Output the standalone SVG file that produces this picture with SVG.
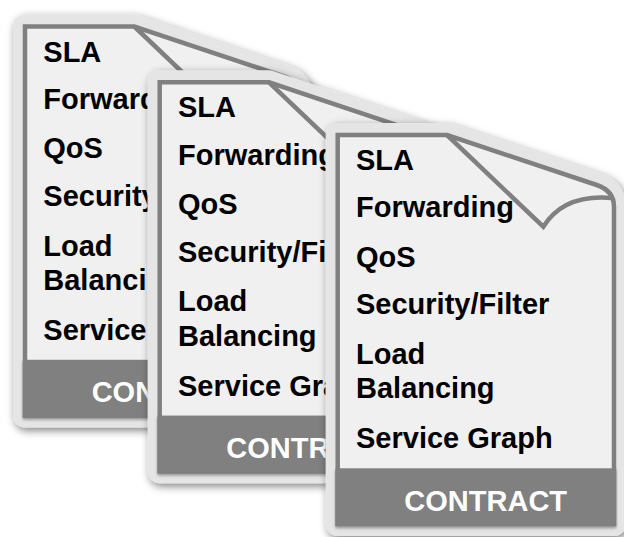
<svg xmlns="http://www.w3.org/2000/svg" xmlns:xlink="http://www.w3.org/1999/xlink" width="624" height="537" viewBox="0 0 624 537">
<style>
  .frame{fill:#e5e5e5;stroke:#e5e5e5;stroke-width:24;stroke-linejoin:round;filter:url(#shadow)}
  .page{fill:#f0f0f0;stroke:#808080;stroke-width:4.5;stroke-linejoin:miter}
  .fold{fill:none;stroke:#808080;stroke-width:4.5;stroke-linejoin:miter}
  .footer{fill:#808080;filter:url(#fshadow)}
  .item{font-family:"Liberation Sans",Arial,sans-serif;font-weight:bold;font-size:29px;fill:#000}
  .label{font-family:"Liberation Sans",Arial,sans-serif;font-weight:bold;font-size:29px;fill:#fff;text-anchor:middle}
</style>
<defs>
  <filter id="shadow" x="-20%" y="-20%" width="140%" height="140%">
    <feGaussianBlur in="SourceAlpha" stdDeviation="4"/>
    <feOffset dx="2" dy="3" result="b"/>
    <feComponentTransfer><feFuncA type="linear" slope="0.5"/></feComponentTransfer>
    <feMerge><feMergeNode/><feMergeNode in="SourceGraphic"/></feMerge>
  </filter>
  <filter id="fshadow" x="-10%" y="-20%" width="120%" height="150%">
    <feGaussianBlur in="SourceAlpha" stdDeviation="1.5"/>
    <feOffset dx="0" dy="2"/>
    <feComponentTransfer><feFuncA type="linear" slope="0.35"/></feComponentTransfer>
    <feMerge><feMergeNode/><feMergeNode in="SourceGraphic"/></feMerge>
  </filter>
  <path id="sil" d="M0,0 H109.3 L259,50 Q276.3,55.8 276.3,71.7 V389 H0 Z"/>
  <path id="fold" d="M109.3,0 L205.6,91.7 C218,72 240,60 274,63"/>
  <clipPath id="clip1"><rect x="-10" y="-10" width="132.7" height="420"/></clipPath>
  <clipPath id="clip2"><rect x="-10" y="-10" width="176" height="420"/></clipPath>
</defs>

<g id="card1" transform="translate(25,26.5)">
  <use xlink:href="#sil" class="frame"/>
  <use xlink:href="#sil" class="page"/>
  <use xlink:href="#fold" class="fold"/>
  <rect class="footer" x="-2.25" y="333.3" width="280.8" height="58"/>
  <g clip-path="url(#clip1)">
    <text class="item" x="18.3" y="35">SLA</text>
    <text class="item" x="18.3" y="82.3">Forwarding</text>
    <text class="item" x="18.3" y="131.7">QoS</text>
    <text class="item" x="18.3" y="179.3">Security/Filter</text>
    <text class="item" x="18.3" y="229">Load</text>
    <text class="item" x="18.3" y="263.3">Balancing</text>
    <text class="item" x="18.3" y="313.3">Service Graph</text>
    <text class="label" x="148" y="375.7">CONTRACT</text>
  </g>
</g>

<g id="card2" transform="translate(159.7,82.3)">
  <use xlink:href="#sil" class="frame"/>
  <use xlink:href="#sil" class="page"/>
  <use xlink:href="#fold" class="fold"/>
  <rect class="footer" x="-2.25" y="333.3" width="280.8" height="58"/>
  <g clip-path="url(#clip2)">
    <text class="item" x="18.3" y="35">SLA</text>
    <text class="item" x="18.3" y="82.3">Forwarding</text>
    <text class="item" x="18.3" y="131.7">QoS</text>
    <text class="item" x="18.3" y="179.3">Security/Filter</text>
    <text class="item" x="18.3" y="229">Load</text>
    <text class="item" x="18.3" y="263.3">Balancing</text>
    <text class="item" x="18.3" y="313.3">Service Graph</text>
    <text class="label" x="148" y="375.7">CONTRACT</text>
  </g>
</g>

<g id="card3" transform="translate(337.7,135)">
  <use xlink:href="#sil" class="frame"/>
  <use xlink:href="#sil" class="page"/>
  <use xlink:href="#fold" class="fold"/>
  <rect class="footer" x="-2.25" y="333.3" width="280.8" height="58"/>
  <text class="item" x="18.3" y="35">SLA</text>
  <text class="item" x="18.3" y="82.3">Forwarding</text>
  <text class="item" x="18.3" y="131.7">QoS</text>
  <text class="item" x="18.3" y="179.3">Security/Filter</text>
  <text class="item" x="18.3" y="229">Load</text>
  <text class="item" x="18.3" y="263.3">Balancing</text>
  <text class="item" x="18.3" y="313.3">Service Graph</text>
  <text class="label" x="148" y="375.7">CONTRACT</text>
</g>
<g id="connectors"/>
</svg>
